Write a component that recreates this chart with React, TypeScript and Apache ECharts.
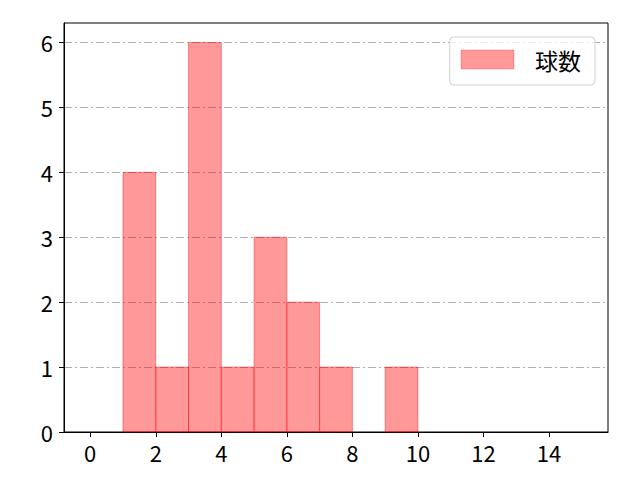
import { useEffect, useRef } from "react";
import * as echarts from "echarts";

// ヒストグラム: 球数
const binEdges = [1, 2, 3, 4, 5, 6, 7, 8, 9, 10];
const counts = [4, 1, 6, 1, 3, 2, 1, 0, 1];
const xTicks = [0, 2, 4, 6, 8, 10, 12, 14];
const yTicks = [0, 1, 2, 3, 4, 5, 6];
const seriesName = "球数";

const FONT = "'Noto Sans CJK JP', 'Noto Sans', sans-serif";
const FILL = "rgba(255, 0, 0, 0.4)";

export default function App() {
    const ref = useRef<HTMLDivElement>(null);

    useEffect(() => {
        if (!ref.current) return;
        const chart = echarts.init(ref.current, null, { renderer: "svg" });

        const bins = counts
            .map((c, i) => [binEdges[i], binEdges[i + 1], c])
            .filter((b) => b[2] > 0);

        chart.setOption({
            animation: false,
            backgroundColor: "#fff",
            textStyle: { fontFamily: FONT },
            grid: {
                left: 64, right: 32, top: 23, bottom: 48,
                show: true, borderColor: "#000", borderWidth: 1,
                backgroundColor: "transparent",
            },
            legend: {
                data: [seriesName],
                right: 45,
                top: 37,
                icon: "rect",
                itemWidth: 53,
                itemHeight: 19,
                padding: [11, 14, 14, 11],
                borderColor: "#d0d0d0",
                borderWidth: 1,
                borderRadius: 4,
                backgroundColor: "rgba(255,255,255,0.8)",
                itemStyle: { borderWidth: 0.6 },
                textStyle: { color: "#000", fontSize: 23, fontFamily: FONT, padding: [0, 0, 0, 16] },
            },
            xAxis: {
                type: "value",
                min: -0.8,
                max: 15.8,
                axisLine: { show: true, onZero: false, lineStyle: { color: "#000", width: 1 } },
                axisTick: { show: true, length: 5, customValues: xTicks, lineStyle: { color: "#000" } },
                axisLabel: { customValues: xTicks, color: "#000", fontSize: 22, fontFamily: FONT, margin: 9 },
                splitLine: { show: false },
            },
            yAxis: {
                type: "value",
                min: 0,
                max: 6.3,
                axisLine: { show: true, onZero: false, lineStyle: { color: "#000", width: 1 } },
                axisTick: { show: true, length: 5, customValues: yTicks, lineStyle: { color: "#000" } },
                axisLabel: { customValues: yTicks, color: "#000", fontSize: 22, fontFamily: FONT, margin: 11 },
                splitLine: { show: true, lineStyle: { color: "#b0b0b0", width: 1, type: [8, 3, 2, 3] } },
            },
            series: [{
                name: seriesName,
                type: "custom",
                itemStyle: { color: FILL, borderColor: FILL, borderWidth: 1 },
                encode: { x: [0, 1], y: 2 },
                data: bins,
                renderItem: (_params: any, api: any) => {
                    const p0 = api.coord([api.value(0), api.value(2)]);
                    const p1 = api.coord([api.value(1), 0]);
                    return {
                        type: "rect",
                        shape: { x: p0[0], y: p0[1], width: p1[0] - p0[0], height: p1[1] - p0[1] },
                        style: { fill: FILL, stroke: FILL, lineWidth: 1 },
                    };
                },
            }],
        });

        return () => chart.dispose();
    }, []);

    return (
        <div
            ref={ref}
            style={{ position: "absolute", left: 0, top: 0, width: 640, height: 480 }}
        />
    );
}
